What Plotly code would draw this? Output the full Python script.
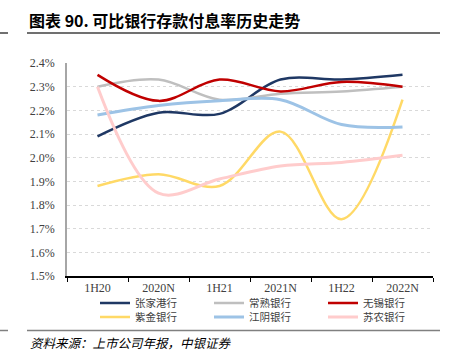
import plotly.graph_objects as go

categories = ["1H20", "2020N", "1H21", "2021N", "1H22", "2022N"]
names = ["张家港行", "常熟银行", "无锡银行", "紫金银行", "江阴银行", "苏农银行"]
zjg = [2.09, 2.19, 2.185, 2.33, 2.33, 2.35]
cs = [2.30, 2.33, 2.245, 2.27, 2.28, 2.30]
wx = [2.35, 2.24, 2.33, 2.28, 2.32, 2.30]
zj = [1.88, 1.93, 1.88, 2.11, 1.74, 2.245]
jy = [2.18, 2.22, 2.24, 2.245, 2.14, 2.13]
sn = [2.30, 1.85, 1.91, 1.965, 1.98, 2.01]
series = [zjg, cs, wx, zj, jy, sn]
colors = ["#1F3864", "#BFBFBF", "#C00000", "#FFD966", "#9DC3E6", "#FFCCCC"]
widths = [2.5, 2.5, 2.5, 2.5, 3, 3]
yticks = [1.5, 1.6, 1.7, 1.8, 1.9, 2.0, 2.1, 2.2, 2.3, 2.4]

W, H = 457, 357
L, R, T, B = 67, 433, 63, 276

def px(x):
    return (x - L) / (R - L)

def py(y):
    return (B - y) / (B - T)

fig = go.Figure()
for i, (n, s, c, w) in enumerate(zip(names, series, colors, widths)):
    fig.add_trace(go.Scatter(x=categories, y=s, name=n, mode="lines",
                             legend="legend" if i < 3 else "legend2",
                             line=dict(color=c, width=w, shape="spline", smoothing=1.0)))

serif = "Liberation Serif"
cjk = "Noto Sans CJK SC"
leg_common = dict(orientation="h", xanchor="left", yanchor="middle",
                  entrywidth=69, entrywidthmode="pixels",
                  font=dict(family=cjk, size=10.5, color="#404040"),
                  bgcolor="rgba(0,0,0,0)")
fig.update_layout(
    width=W, height=H, autosize=False,
    margin=dict(l=L, r=W - R, t=T, b=H - B, autoexpand=False),
    plot_bgcolor="white", paper_bgcolor="white",
    showlegend=True,
    legend=dict(x=px(95), y=py(303), **leg_common),
    legend2=dict(x=px(95), y=py(317), **leg_common),
    xaxis=dict(type="category", range=[-0.5, 5.5], showline=True, linecolor="#000000", linewidth=1.5,
               ticks="outside", tickson="boundaries", ticklen=4, tickcolor="#000000",
               showgrid=False, tickfont=dict(family=serif, size=12, color="#404040"),
               fixedrange=True),
    yaxis=dict(range=[1.5, 2.4], tickvals=yticks, ticktext=[f"{v:.1f}%" for v in yticks],
               showline=True, linecolor="#A6A6A6", linewidth=1.5,
               showgrid=True, gridcolor="#D9D9D9", griddash="dot", gridwidth=1,
               zeroline=False, ticks="", tickfont=dict(family=serif, size=12, color="#404040"),
               ticklabelstandoff=8, fixedrange=True),
)

fig.add_annotation(text="<b>图表 90. 可比银行存款付息率历史走势</b>", xref="paper", yref="paper",
                   x=px(27), y=py(20), xanchor="left", yanchor="middle", showarrow=False,
                   font=dict(family=cjk, size=16, color="#000000"))
fig.add_annotation(text="<i>资料来源：上市公司年报，中银证券</i>", xref="paper", yref="paper",
                   x=px(28), y=py(342), xanchor="left", yanchor="middle", showarrow=False,
                   font=dict(family=cjk, size=12.5, color="#000000"))
for yy, col in [(33, "#404040"), (330.5, "#808080")]:
    fig.add_shape(type="line", xref="paper", yref="paper", x0=px(0), x1=px(8), y0=py(yy), y1=py(yy),
                  line=dict(color=col, width=1.5))
    fig.add_shape(type="line", xref="paper", yref="paper", x0=px(27), x1=px(440), y0=py(yy), y1=py(yy),
                  line=dict(color=col, width=1.5))

fig.write_html("out.html", post_script="document.body.style.margin='0px';",
               config={"displayModeBar": False})
